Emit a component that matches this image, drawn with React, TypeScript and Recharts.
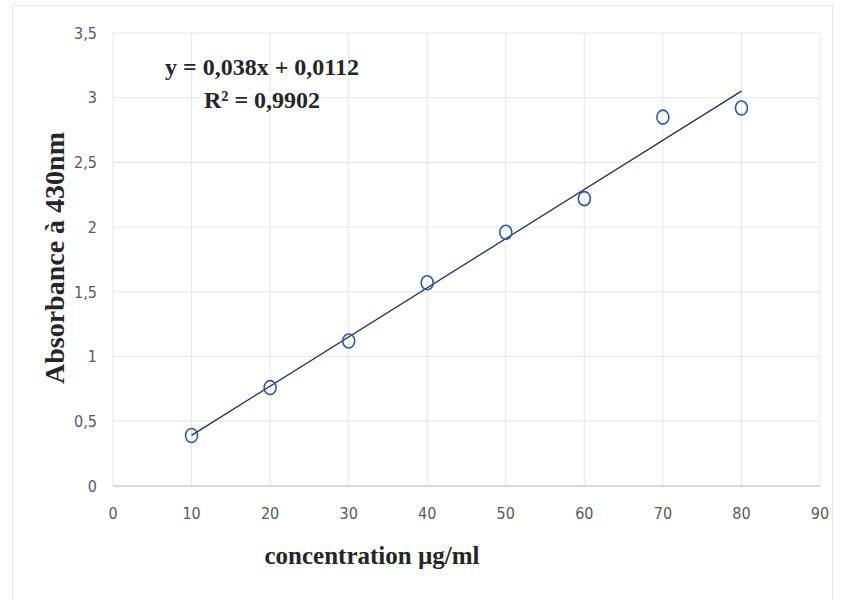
import React from "react";
import { ScatterChart, Scatter, XAxis, YAxis, CartesianGrid } from "recharts";

// concentration (µg/ml) and absorbance at 430 nm
const concentrations = [10, 20, 30, 40, 50, 60, 70, 80];
const absorbances = [0.39, 0.76, 1.12, 1.57, 1.96, 2.22, 2.85, 2.92];

// linear trendline end points (y = 0,038x + 0,0112)
const trendX = [10, 80];
const trendY = [0.3912, 3.0512];

const xTicks = [0, 10, 20, 30, 40, 50, 60, 70, 80, 90];
const yTicks = [0, 0.5, 1, 1.5, 2, 2.5, 3, 3.5];

const points = concentrations.map((x, i) => ({ x, y: absorbances[i] }));
const trend = trendX.map((x, i) => ({ x, y: trendY[i] }));

const tickStyle = {
  fill: "#595959",
  fontSize: 16,
  fontFamily: "'DejaVu Sans Condensed', 'Liberation Sans', sans-serif",
};

const titleFont = "'Liberation Serif', 'DejaVu Serif', serif";

const fmt = (v: number) => String(v).replace(".", ",");

const Ring = (p: any) => (
  <ellipse
    cx={p.cx}
    cy={p.cy}
    rx={6}
    ry={7}
    fill="none"
    stroke="#2f5aa8"
    strokeWidth={1.6}
  />
);

export default function App() {
  return (
    <div
      style={{
        position: "absolute",
        left: 0,
        top: 0,
        width: 842,
        height: 600,
        background: "#fff",
      }}
    >
      <div
        style={{
          position: "absolute",
          left: 12,
          top: 5,
          width: 821,
          height: 600,
          border: "1px solid #e3e3e3",
          boxSizing: "border-box",
        }}
      />
      <ScatterChart
        width={842}
        height={600}
        margin={{ top: 33, right: 22, bottom: 84, left: 0 }}
      >
        <CartesianGrid stroke="#e6e6e6" strokeWidth={1} />
        <XAxis
          type="number"
          dataKey="x"
          domain={[0, 90]}
          ticks={xTicks}
          interval={0}
          height={30}
          tickSize={0}
          tickMargin={22}
          tick={tickStyle}
          axisLine={{ stroke: "#bfbfbf" }}
          tickLine={false}
        />
        <YAxis
          type="number"
          dataKey="y"
          domain={[0, 3.5]}
          ticks={yTicks}
          interval={0}
          width={113}
          tickSize={0}
          tickMargin={16}
          tick={tickStyle}
          tickFormatter={fmt}
          axisLine={false}
          tickLine={false}
        />
        <Scatter
          data={trend}
          line={{ stroke: "#1f2f5f", strokeWidth: 1.3 }}
          shape={() => <g />}
          isAnimationActive={false}
        />
        <Scatter data={points} shape={Ring} isAnimationActive={false} />
      </ScatterChart>

      <div
        style={{
          position: "absolute",
          left: 262,
          top: 67,
          transform: "translate(-50%, -50%)",
          fontFamily: titleFont,
          fontWeight: "bold",
          fontSize: 24,
          color: "#262626",
          whiteSpace: "nowrap",
        }}
      >
        y = 0,038x + 0,0112
      </div>
      <div
        style={{
          position: "absolute",
          left: 262,
          top: 100,
          transform: "translate(-50%, -50%)",
          fontFamily: titleFont,
          fontWeight: "bold",
          fontSize: 24,
          color: "#262626",
          whiteSpace: "nowrap",
        }}
      >
        R² = 0,9902
      </div>
      <div
        style={{
          position: "absolute",
          left: 372,
          top: 556,
          transform: "translate(-50%, -50%)",
          fontFamily: titleFont,
          fontWeight: "bold",
          fontSize: 25,
          color: "#262626",
          whiteSpace: "nowrap",
        }}
      >
        concentration µg/ml
      </div>
      <div
        style={{
          position: "absolute",
          left: 55,
          top: 258,
          transform: "translate(-50%, -50%) rotate(-90deg)",
          fontFamily: titleFont,
          fontWeight: "bold",
          fontSize: 28,
          color: "#262626",
          whiteSpace: "nowrap",
        }}
      >
        Absorbance à 430nm
      </div>
    </div>
  );
}
